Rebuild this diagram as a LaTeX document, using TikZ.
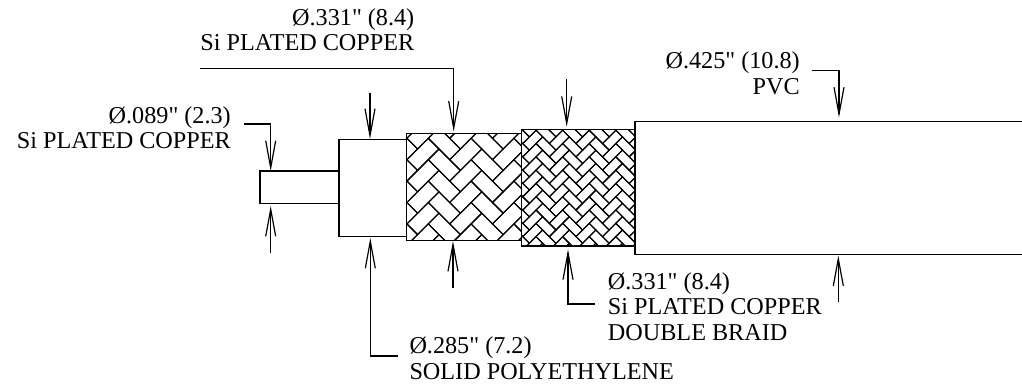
\documentclass[tikz,border=0pt]{standalone}
\usepackage{fontspec}
\newfontfamily\labelfont{Liberation Serif}
\usetikzlibrary{arrows.meta}
\tikzset{
  part/.style={draw, line width=1.4pt, fill=white},
  dimarrow/.style={line width=1.2pt, -{Straight Barb[length=27pt,width=10pt,line width=1.2pt]}},
  label/.style={inner sep=0pt, font=\labelfont\fontsize{24.2}{25.5}\selectfont, align=right},
  brick/.style={line width=1.1pt}
}
% one double brick tile of the braid: #1 size, #2 #3 origin
\newcommand{\braidtile}[3]{
  \draw[brick] (#2,#3) -- ++(2*#1,2*#1) -- ++(-#1,#1) -- ++(-2*#1,-2*#1) -- cycle;
  \draw[brick] (#2-#1,#3+#1) -- ++(-2*#1,2*#1) -- ++(#1,#1) -- ++(2*#1,-2*#1) -- cycle;
}
\begin{document}
\begin{tikzpicture}[x=1pt,y=-1pt]
\useasboundingbox (0,0) rectangle (1022,383);

% Conductor and insulation
\draw[part] (260,171) rectangle (339,203.5);
\draw[part] (339,139.5) rectangle (406.7,236.7);

% Outer jacket
\draw[line width=1.4pt] (1022,121.5) -- (635,121.5) -- (635,254.5) -- (1022,254.5);

% First braid
\begin{scope}
\clip (406.7,133.7) rectangle (521.7,240.7);
\foreach \i in {-3,...,5} {
  \foreach \j in {-6,...,9} {
    \braidtile{10.7}{439+\i*42.8}{127.6+\j*21.4}
  }
}
\end{scope}
\draw[line width=1.4pt] (406.7,133.7) rectangle (521.7,240.7);

% Double braid
\begin{scope}
\clip (521.7,129.3) rectangle (635,246);
\foreach \i in {-3,...,7} {
  \foreach \j in {-6,...,16} {
    \braidtile{6.65}{542.7+\i*26.6}{123.6+\j*13.3}
  }
}
\end{scope}
\draw[line width=1.4pt] (521.7,129.3) rectangle (635,246);

% Leader ends and arrow tips
\coordinate (conductor top) at (270.7,171);
\coordinate (conductor bend) at (270.7,124);
\coordinate (conductor start) at (244,124);
\coordinate (conductor bottom) at (270.7,206);
\coordinate (conductor end) at (270.7,253);
\coordinate (insul top) at (370,139);
\coordinate (insul start) at (370,92.7);
\coordinate (insul bottom) at (370.3,238);
\coordinate (insul bend) at (370.3,356);
\coordinate (insul end) at (397.7,356);
\coordinate (shield top) at (453.7,131.5);
\coordinate (shield bend) at (453.7,68.3);
\coordinate (shield start) at (199.5,68.3);
\coordinate (shield bottom) at (453,241);
\coordinate (shield end) at (453,287.7);
\coordinate (double top) at (566.7,126.7);
\coordinate (double start) at (566.7,79);
\coordinate (double bottom) at (568,249.3);
\coordinate (double bend) at (568,304);
\coordinate (double end) at (595,304);
\coordinate (jacket top) at (839,117.5);
\coordinate (jacket bend) at (839,70.7);
\coordinate (jacket start) at (811.7,70.7);
\coordinate (jacket bottom) at (838.3,255.5);
\coordinate (jacket end) at (838.3,302);

\draw[dimarrow] (conductor start) -- (conductor bend) -- (conductor top);
\draw[dimarrow] (conductor end) -- (conductor bottom);
\draw[dimarrow] (insul start) -- (insul top);
\draw[dimarrow] (insul end) -- (insul bend) -- (insul bottom);
\draw[dimarrow] (shield start) -- (shield bend) -- (shield top);
\draw[dimarrow] (shield end) -- (shield bottom);
\draw[dimarrow] (double start) -- (double top);
\draw[dimarrow] (double end) -- (double bend) -- (double bottom);
\draw[dimarrow] (jacket start) -- (jacket bend) -- (jacket top);
\draw[dimarrow] (jacket end) -- (jacket bottom);

% Labels
\node[label, anchor=north east] (conductor label) at (231,106.5) {Ø.089" (2.3)\\Si PLATED COPPER};
\node[label, anchor=north east] (shield label) at (414.5,8.5) {Ø.331" (8.4)\\Si PLATED COPPER};
\node[label, anchor=north east] (jacket label) at (800,52) {Ø.425" (10.8)\\PVC};
\node[label, anchor=north west, align=left] (double label) at (607.7,272.5) {Ø.331" (8.4)\\Si PLATED COPPER\\DOUBLE BRAID};
\node[label, anchor=north west, align=left] (insul label) at (409.3,337) {Ø.285" (7.2)\\SOLID POLYETHYLENE};
\end{tikzpicture}
\end{document}
